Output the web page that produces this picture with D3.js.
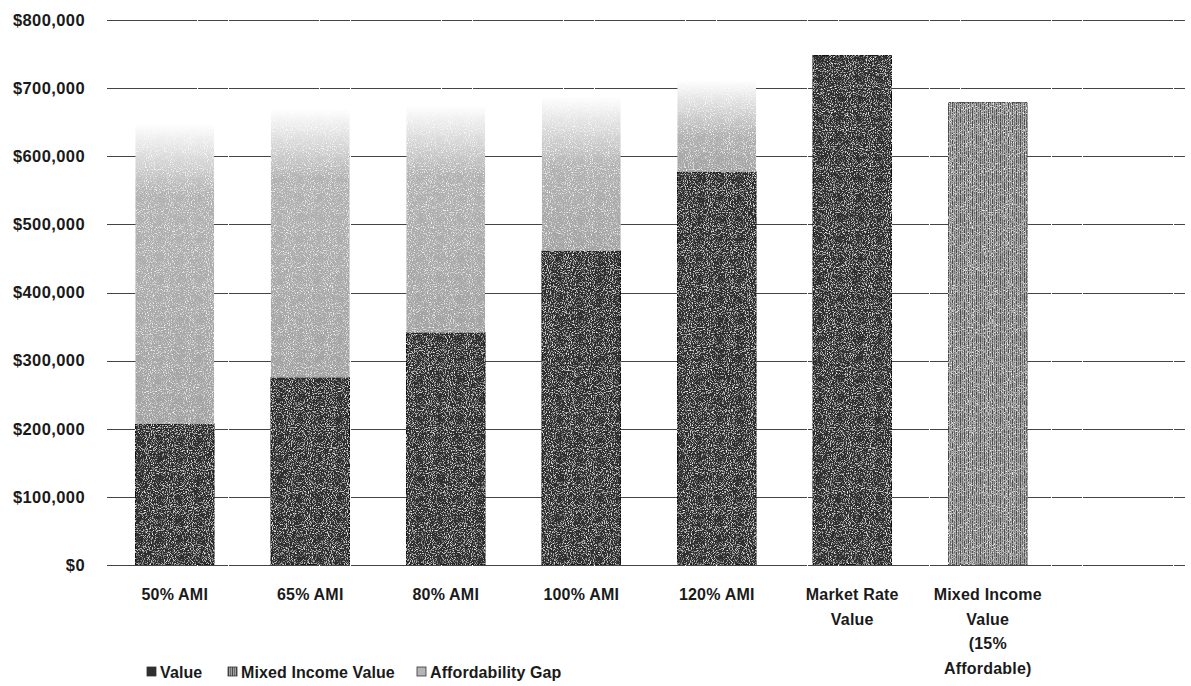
<!DOCTYPE html>
<html lang="en">
<head>
<meta charset="utf-8" />
<title>Affordability Gap</title>
<script src="https://d3js.org/d3.v7.min.js"></script>
<style>
  body { margin: 0; background: #fff; }
  text { font-family: "Liberation Sans", Arial, sans-serif; fill: #1a1a1a; font-weight: bold; }
</style>
</head>
<body>
<svg id="chart" width="1191" height="686"></svg>
<script>
// data
const categories = ["50% AMI", "65% AMI", "80% AMI", "100% AMI", "120% AMI", "Market Rate Value", "Mixed Income Value (15% Affordable)"];
const valueSeries = [207000, 275000, 341000, 461000, 577000, 748000, 0];
const mixedIncomeSeries = [0, 0, 0, 0, 0, 0, 679000];
const gapSeries = [441000, 395000, 334000, 227000, 135000, 0, 0];
const yTicks = [0, 100000, 200000, 300000, 400000, 500000, 600000, 700000, 800000];
const labelLines = [["50% AMI"], ["65% AMI"], ["80% AMI"], ["100% AMI"], ["120% AMI"], ["Market Rate", "Value"], ["Mixed Income", "Value", "(15%", "Affordable)"]];
const legendNames = ["Value", "Mixed Income Value", "Affordability Gap"];

const svg = d3.select("#chart");
const plotLeft = 107, plotRight = 1191, plotTop = 20, plotBottom = 565;

const y = d3.scaleLinear().domain([0, 800000]).range([plotBottom, plotTop]);
const x = d3.scaleBand()
    .domain(categories)
    .range([plotLeft, plotLeft + 7 * 135.5])
    .paddingInner(0.42)
    .paddingOuter(0.21);

const defs = svg.append("defs");

// speckle like the scanned original
const grain = defs.append("filter").attr("id", "grain")
    .attr("x", 0).attr("y", 0).attr("width", "100%").attr("height", "100%");
grain.append("feTurbulence").attr("type", "fractalNoise")
    .attr("baseFrequency", 0.95).attr("numOctaves", 2).attr("seed", 4).attr("result", "noise");
grain.append("feColorMatrix").attr("in", "noise").attr("type", "matrix")
    .attr("values", "0 0 0 0 1  0 0 0 0 1  0 0 0 0 1  3 0 0 0 -1.55").attr("result", "spots");
grain.append("feComposite").attr("in", "spots").attr("in2", "SourceGraphic")
    .attr("operator", "in").attr("result", "clipped");
const merge = grain.append("feMerge");
merge.append("feMergeNode").attr("in", "SourceGraphic");
merge.append("feMergeNode").attr("in", "clipped");

// vertical stripes for mixed income value
const stripes = defs.append("pattern").attr("id", "stripes")
    .attr("patternUnits", "userSpaceOnUse").attr("width", 4).attr("height", 4);
stripes.append("rect").attr("width", 4).attr("height", 4).attr("fill", "#a0a0a0");
stripes.append("rect").attr("width", 1).attr("height", 4).attr("fill", "#4a4a4a");
stripes.append("rect").attr("x", 2).attr("width", 1).attr("height", 4).attr("fill", "#6e6e6e");

// gridlines
svg.append("g")
    .selectAll("line")
    .data(yTicks)
    .join("line")
    .attr("x1", plotLeft)
    .attr("x2", plotRight - 6)
    .attr("y1", d => Math.round(y(d)) + 0.5)
    .attr("y2", d => Math.round(y(d)) + 0.5)
    .attr("stroke", "#444")
    .attr("stroke-width", 1)
    .attr("stroke-dasharray", "90 1 30 1");

// y labels
svg.append("g")
    .selectAll("text")
    .data(yTicks)
    .join("text")
    .attr("x", 85)
    .attr("y", d => y(d))
    .attr("dy", "0.35em")
    .attr("text-anchor", "end")
    .style("font-size", "16.5px")
    .style("letter-spacing", "0.4px")
    .text(d => d3.format("$,")(d));

// bars
const bars = svg.append("g");
categories.forEach((c, i) => {
    const x0 = x(c), w = x.bandwidth();
    const v = valueSeries[i], m = mixedIncomeSeries[i], g = gapSeries[i];
    if (v > 0) {
        bars.append("rect")
            .attr("x", x0).attr("y", y(v))
            .attr("width", w).attr("height", y(0) - y(v))
            .attr("fill", "#2f2f2f").attr("stroke", "#111").attr("stroke-width", 1)
            .attr("filter", "url(#grain)");
    }
    if (m > 0) {
        bars.append("rect")
            .attr("x", x0).attr("y", y(v + m))
            .attr("width", w).attr("height", y(v) - y(v + m))
            .attr("fill", "url(#stripes)").attr("stroke", "#444").attr("stroke-width", 1)
            .attr("filter", "url(#grain)");
    }
    if (g > 0) {
        const y0 = y(v + m), y1 = y(v + m + g);
        const fade = Math.min(70, (y0 - y1) * 0.6);
        const grad = defs.append("linearGradient").attr("id", "gap" + i)
            .attr("gradientUnits", "userSpaceOnUse")
            .attr("x1", 0).attr("x2", 0).attr("y1", y0).attr("y2", y1);
        grad.append("stop").attr("offset", 0).attr("stop-color", "#a2a2a2");
        grad.append("stop").attr("offset", 1 - fade / (y0 - y1)).attr("stop-color", "#b2b2b2");
        grad.append("stop").attr("offset", 1).attr("stop-color", "#ffffff");
        bars.append("rect")
            .attr("x", x0).attr("y", y1)
            .attr("width", w).attr("height", y0 - y1)
            .attr("fill", "url(#gap" + i + ")")
            .attr("filter", "url(#grain)");
    }
});

// x labels
const xl = svg.append("g");
categories.forEach((c, i) => {
    const t = xl.append("text")
        .attr("x", x(c) + x.bandwidth() / 2)
        .attr("y", 600)
        .attr("text-anchor", "middle")
        .style("font-size", "16px")
        .style("letter-spacing", "0.2px");
    labelLines[i].forEach((line, k) => {
        t.append("tspan")
            .attr("x", x(c) + x.bandwidth() / 2)
            .attr("y", 600 + k * 24.5)
            .text(line);
    });
});

// legend
const legendX = [147, 228, 417];
const legendFill = ["#2f2f2f", "url(#stripes)", "#b5b5b5"];
const legend = svg.append("g");
legendNames.forEach((n, i) => {
    legend.append("rect")
        .attr("x", legendX[i]).attr("y", 667)
        .attr("width", 9).attr("height", 9)
        .attr("fill", legendFill[i]).attr("stroke", "#333").attr("stroke-width", 0.8);
    legend.append("text")
        .attr("x", legendX[i] + 13)
        .attr("y", 678)
        .style("font-size", "16px")
        .style("letter-spacing", "0.1px")
        .text(n);
});
</script>
</body>
</html>
